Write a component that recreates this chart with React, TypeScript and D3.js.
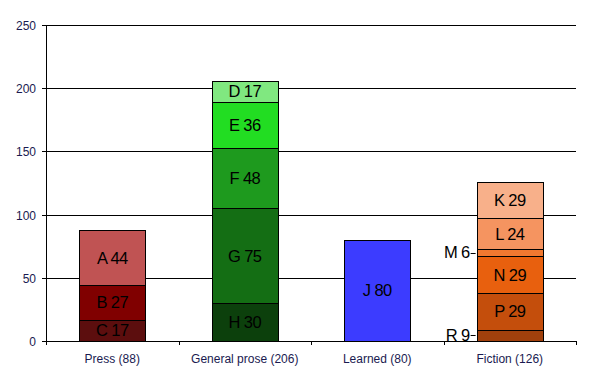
import React, { useEffect, useRef } from 'react';
import * as d3 from 'd3';

interface Segment {
  label: string;
  value: number;
  color: string;
}

const categories = ['Press (88)', 'General prose (206)', 'Learned (80)', 'Fiction (126)'];

const pressSegments: Segment[] = [
  { label: 'C', value: 17, color: '#5C0E0E' },
  { label: 'B', value: 27, color: '#800000' },
  { label: 'A', value: 44, color: '#C05353' },
];

const proseSegments: Segment[] = [
  { label: 'H', value: 30, color: '#0C400C' },
  { label: 'G', value: 75, color: '#146E14' },
  { label: 'F', value: 48, color: '#1E9A1E' },
  { label: 'E', value: 36, color: '#22DD22' },
  { label: 'D', value: 17, color: '#80E880' },
];

const learnedSegments: Segment[] = [
  { label: 'J', value: 80, color: '#3C3CFF' },
];

const fictionSegments: Segment[] = [
  { label: 'R', value: 9, color: '#A0400C' },
  { label: 'P', value: 29, color: '#C44E0C' },
  { label: 'N', value: 29, color: '#E8600E' },
  { label: 'M', value: 6, color: '#F07830' },
  { label: 'L', value: 24, color: '#F59460' },
  { label: 'K', value: 29, color: '#F8B08A' },
];

const stacks = [pressSegments, proseSegments, learnedSegments, fictionSegments];
const yTicks = [0, 50, 100, 150, 200, 250];

const FONT = 'Liberation Sans, Arial, sans-serif';

const App: React.FC = () => {
  const svgRef = useRef<SVGSVGElement>(null);

  useEffect(() => {
    if (!svgRef.current) return;
    const svg = d3.select(svgRef.current);
    svg.selectAll('*').remove();

    const left = 46;
    const right = 576;
    const top = 25;
    const bottom = 341;

    const x = d3.scaleBand<string>()
      .domain(categories)
      .range([left, right])
      .paddingInner(0.5)
      .paddingOuter(0.25);

    const y = d3.scaleLinear().domain([0, 250]).range([bottom, top]);

    // gridlines
    svg.append('g')
      .selectAll('line')
      .data(yTicks.filter(t => t > 0))
      .join('line')
      .attr('x1', left - 4)
      .attr('x2', right)
      .attr('y1', d => Math.round(y(d)) + 0.5)
      .attr('y2', d => Math.round(y(d)) + 0.5)
      .attr('stroke', '#000')
      .attr('stroke-width', 1);

    // y axis tick labels
    svg.append('g')
      .selectAll('text')
      .data(yTicks)
      .join('text')
      .attr('x', 36)
      .attr('y', d => Math.round(y(d)) + 4.5)
      .attr('text-anchor', 'end')
      .attr('font-family', FONT)
      .attr('font-size', 12)
      .attr('fill', '#1a1a50')
      .text(d => d);

    // bars
    stacks.forEach((segs, i) => {
      const cat = categories[i];
      const bx = x(cat)!;
      const bw = x.bandwidth();
      let base = 0;
      segs.forEach(s => {
        const y0 = y(base);
        const y1 = y(base + s.value);
        svg.append('rect')
          .attr('x', Math.round(bx) + 0.5)
          .attr('y', Math.round(y1) + 0.5)
          .attr('width', Math.round(bw))
          .attr('height', Math.round(y0) - Math.round(y1))
          .attr('fill', s.color)
          .attr('stroke', '#000')
          .attr('stroke-width', 1);

        const mid = (y0 + y1) / 2;
        const txt = `${s.label} ${s.value}`;
        if (y0 - y1 >= 14) {
          svg.append('text')
            .attr('x', bx + bw / 2)
            .attr('y', mid + 6)
            .attr('text-anchor', 'middle')
            .attr('font-family', FONT)
            .attr('font-size', 16.5)
            .attr('letter-spacing', -0.6)
            .attr('fill', '#000')
            .text(txt);
        } else {
          svg.append('line')
            .attr('x1', bx - 6)
            .attr('x2', bx - 1)
            .attr('y1', Math.round(mid) + 0.5)
            .attr('y2', Math.round(mid) + 0.5)
            .attr('stroke', '#000')
            .attr('stroke-width', 1);
          svg.append('text')
            .attr('x', bx - 7)
            .attr('y', mid + 5.5)
            .attr('text-anchor', 'end')
            .attr('font-family', FONT)
            .attr('font-size', 16.5)
            .attr('letter-spacing', -0.6)
            .attr('fill', '#000')
            .text(txt);
        }
        base += s.value;
      });
    });

    // axes lines
    svg.append('line')
      .attr('x1', left + 0.5).attr('x2', left + 0.5)
      .attr('y1', top).attr('y2', bottom + 4)
      .attr('stroke', '#000');
    svg.append('line')
      .attr('x1', left - 4).attr('x2', right + 0.5)
      .attr('y1', bottom + 0.5).attr('y2', bottom + 0.5)
      .attr('stroke', '#000');

    // category ticks at band boundaries
    const step = x.step();
    const bounds = d3.range(categories.length + 1).map(k => left + k * step);
    svg.append('g')
      .selectAll('line')
      .data(bounds)
      .join('line')
      .attr('x1', d => Math.round(d) + 0.5)
      .attr('x2', d => Math.round(d) + 0.5)
      .attr('y1', bottom)
      .attr('y2', bottom + 4)
      .attr('stroke', '#000');

    // category labels
    svg.append('g')
      .selectAll('text')
      .data(categories)
      .join('text')
      .attr('x', d => x(d)! + x.bandwidth() / 2)
      .attr('y', 363)
      .attr('text-anchor', 'middle')
      .attr('font-family', FONT)
      .attr('font-size', 12)
      .attr('fill', '#1a1a50')
      .text(d => d);
  }, []);

  return (
    <svg
      ref={svgRef}
      width={590}
      height={385}
      style={{ position: 'absolute', left: 0, top: 0, background: '#fff' }}
    />
  );
};

export default App;
